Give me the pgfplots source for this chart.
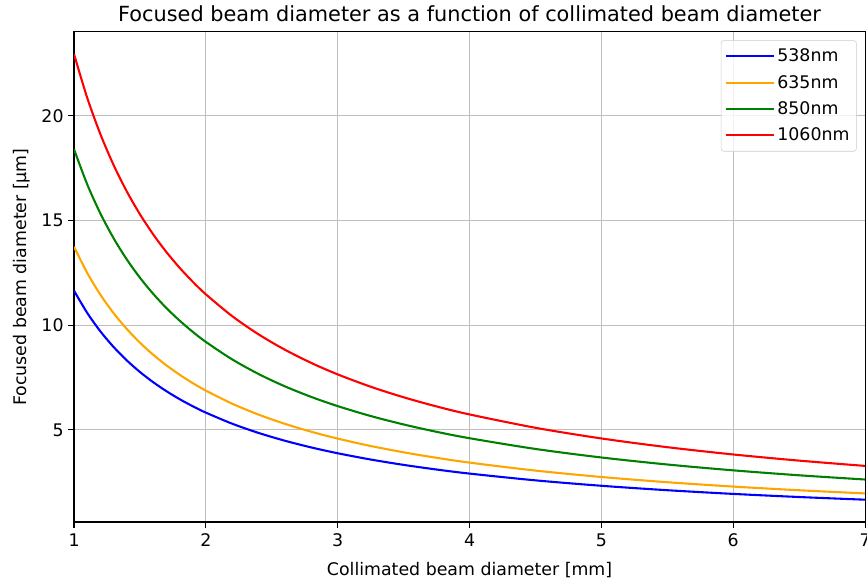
\documentclass[border=0pt]{standalone}
\usepackage{fontspec}
\setmainfont{DejaVu Sans}
\usepackage{pgfplots}
\pgfplotsset{compat=1.18}
\usepackage{pgfplotstable}
\usetikzlibrary{calc}

% Focused spot diameter versus collimated beam diameter, f = 17 mm
% columns: D [mm], 538 nm, 635 nm, 850 nm, 1060 nm  (diameters in um)
\pgfplotstableread{
D     a      b      c      d
1.00  11.645 13.745 18.398 22.944
1.10  10.586 12.495 16.725 20.858
1.20  9.704  11.454 15.332 19.120
1.30  8.958  10.573 14.152 17.649
1.40  8.318  9.818  13.141 16.389
1.50  7.763  9.163  12.265 15.296
1.60  7.278  8.591  11.499 14.340
1.70  6.850  8.085  10.822 13.496
1.80  6.469  7.636  10.221 12.747
1.90  6.129  7.234  9.683  12.076
2.00  5.823  6.873  9.199  11.472
2.20  5.293  6.248  8.363  10.429
2.40  4.852  5.727  7.666  9.560
2.60  4.479  5.287  7.076  8.825
2.80  4.159  4.909  6.571  8.194
3.00  3.882  4.582  6.133  7.648
3.25  3.583  4.229  5.661  7.060
3.50  3.327  3.927  5.257  6.555
3.75  3.105  3.665  4.906  6.118
4.00  2.911  3.436  4.600  5.736
4.50  2.588  3.054  4.088  5.099
5.00  2.329  2.749  3.680  4.589
5.50  2.117  2.499  3.345  4.172
6.00  1.941  2.291  3.066  3.824
6.50  1.792  2.115  2.830  3.530
7.00  1.664  1.964  2.628  3.278
}\spot

\definecolor{mplblue}{RGB}{0,0,255}
\definecolor{mplorange}{RGB}{255,165,0}
\definecolor{mplgreen}{RGB}{0,128,0}
\definecolor{mplred}{RGB}{255,0,0}
\definecolor{gridgray}{RGB}{190,190,190}

\begin{document}
\begin{tikzpicture}
\begin{axis}[
  scale only axis,
  width=569.5pt, height=352.8pt,
  xmin=1, xmax=7, ymin=0.600, ymax=24.004,
  xtick={1,2,3,4,5,6,7},
  ytick={5,10,15,20},
  /pgf/number format/assume math mode=true,
  tick label style={font=\fontsize{12.5}{15}\selectfont},
  xticklabel style={yshift=-1pt},
  tick align=outside,
  xtick pos=bottom, ytick pos=left,
  major tick length=4pt,
  every tick/.style={black, line width=0.8pt},
  axis line style={line width=0.8pt},
  grid=major,
  major grid style={gridgray, line width=0.8pt},
  title={Focused beam diameter as a function of collimated beam diameter},
  title style={font=\fontsize{15}{18}\selectfont, yshift=-2pt},
  xlabel={Collimated beam diameter [mm]},
  ylabel={Focused beam diameter [µm]},
  label style={font=\fontsize{12.5}{15}\selectfont},
  xlabel style={yshift=-4pt},
  ylabel style={yshift=1pt},
  legend style={at={(1,1)}, anchor=north east, xshift=-6pt, yshift=-6pt,
    draw=black!20, rounded corners=2pt, fill=white, fill opacity=0.8,
    text opacity=1, font=\fontsize{12.5}{15}\selectfont,
    inner xsep=3pt, inner ysep=4pt, row sep=4.2pt},
  legend cell align=left,
  legend image code/.code={\draw[#1] (0pt,0pt) -- (26pt,0pt);
    \path (0pt,0pt) -- (34pt,0pt);},
  every axis plot/.append style={line width=1.5pt, smooth},
]
\addplot[mplblue]   table[x=D, y=a] {\spot};
\addlegendentry{538nm}
\addplot[mplorange] table[x=D, y=b] {\spot};
\addlegendentry{635nm}
\addplot[mplgreen]  table[x=D, y=c] {\spot};
\addlegendentry{850nm}
\addplot[mplred]    table[x=D, y=d] {\spot};
\addlegendentry{1060nm}
\end{axis}
\pgfresetboundingbox
\path ($(current axis.south west)+(-53.3pt,-43.2pt)$) rectangle
      ($(current axis.north east)+(1.4pt,23pt)$);
\end{tikzpicture}
\end{document}
